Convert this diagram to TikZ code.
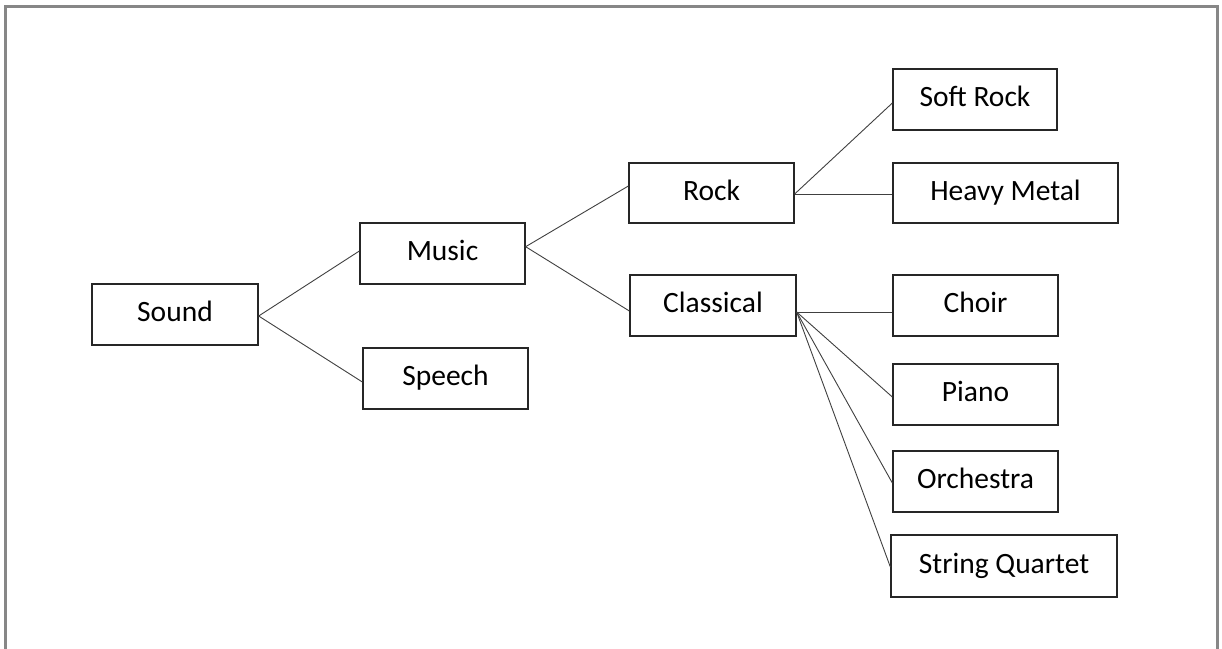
\documentclass[tikz,border=0pt]{standalone}
\usepackage{fontspec}
\setmainfont{Carlito}
\begin{document}
\begin{tikzpicture}[x=1pt,y=-1pt,
  box/.style={draw=black!85,line width=1.3pt,inner sep=0pt,fill=white,
    font=\fontsize{29.5}{32}\selectfont,text height=20pt,text depth=5.8pt},
  link/.style={draw=black!75,line width=0.9pt}]
\useasboundingbox (0,0) rectangle (1222,648);
\draw[draw=black!47,line width=3pt] (5.5,660) -- (5.5,6.5) -- (1217,6.5) -- (1217,660);
% nodes: center (cx,cy), size w x h
\node[box,minimum width=166pt,minimum height=61pt] (sound) at (175,314.5) {Sound};
\node[box,minimum width=165pt,minimum height=61pt] (music) at (442.5,253.5) {Music};
\node[box,minimum width=165pt,minimum height=61pt] (speech) at (445.5,378.5) {Speech};
\node[box,minimum width=165pt,minimum height=60pt] (rock) at (711.5,193) {Rock};
\node[box,minimum width=166pt,minimum height=61pt] (classical) at (713,305.5) {Classical};
\node[box,minimum width=164pt,minimum height=61pt] (softrock) at (975,99.5) {Soft Rock};
\node[box,minimum width=225pt,minimum height=60pt] (heavymetal) at (1005.5,193) {Heavy Metal};
\node[box,minimum width=165pt,minimum height=61pt] (choir) at (975.5,305.5) {Choir};
\node[box,minimum width=165pt,minimum height=61pt] (piano) at (975.5,394.5) {Piano};
\node[box,minimum width=165pt,minimum height=61pt] (orchestra) at (975.5,481.5) {Orchestra};
\node[box,minimum width=226pt,minimum height=62pt] (quartet) at (1004,566) {String Quartet};
% connectors
\draw[link] ([yshift=-1.5pt]sound.east) -- ([yshift=2.5pt]music.west);
\draw[link] ([yshift=-1.5pt]sound.east) -- ([yshift=-3.5pt]speech.west);
\draw[link] ([yshift=6.8pt]music.east) -- ([yshift=7pt]rock.west);
\draw[link] ([yshift=6.8pt]music.east) -- ([yshift=-5.5pt]classical.west);
\draw[link] ([yshift=-1pt]rock.east) -- ([yshift=-3.5pt]softrock.west);
\draw[link] ([yshift=-1pt]rock.east) -- ([yshift=-1pt]heavymetal.west);
\draw[link] ([yshift=-6.5pt]classical.east) -- ([yshift=-6.5pt]choir.west);
\draw[link] ([yshift=-6.5pt]classical.east) -- ([yshift=-2.5pt]piano.west);
\draw[link] ([yshift=-6.5pt]classical.east) -- ([yshift=-1.5pt]orchestra.west);
\draw[link] ([yshift=-6.5pt]classical.east) -- ([yshift=-1pt]quartet.west);
\end{tikzpicture}
\end{document}
